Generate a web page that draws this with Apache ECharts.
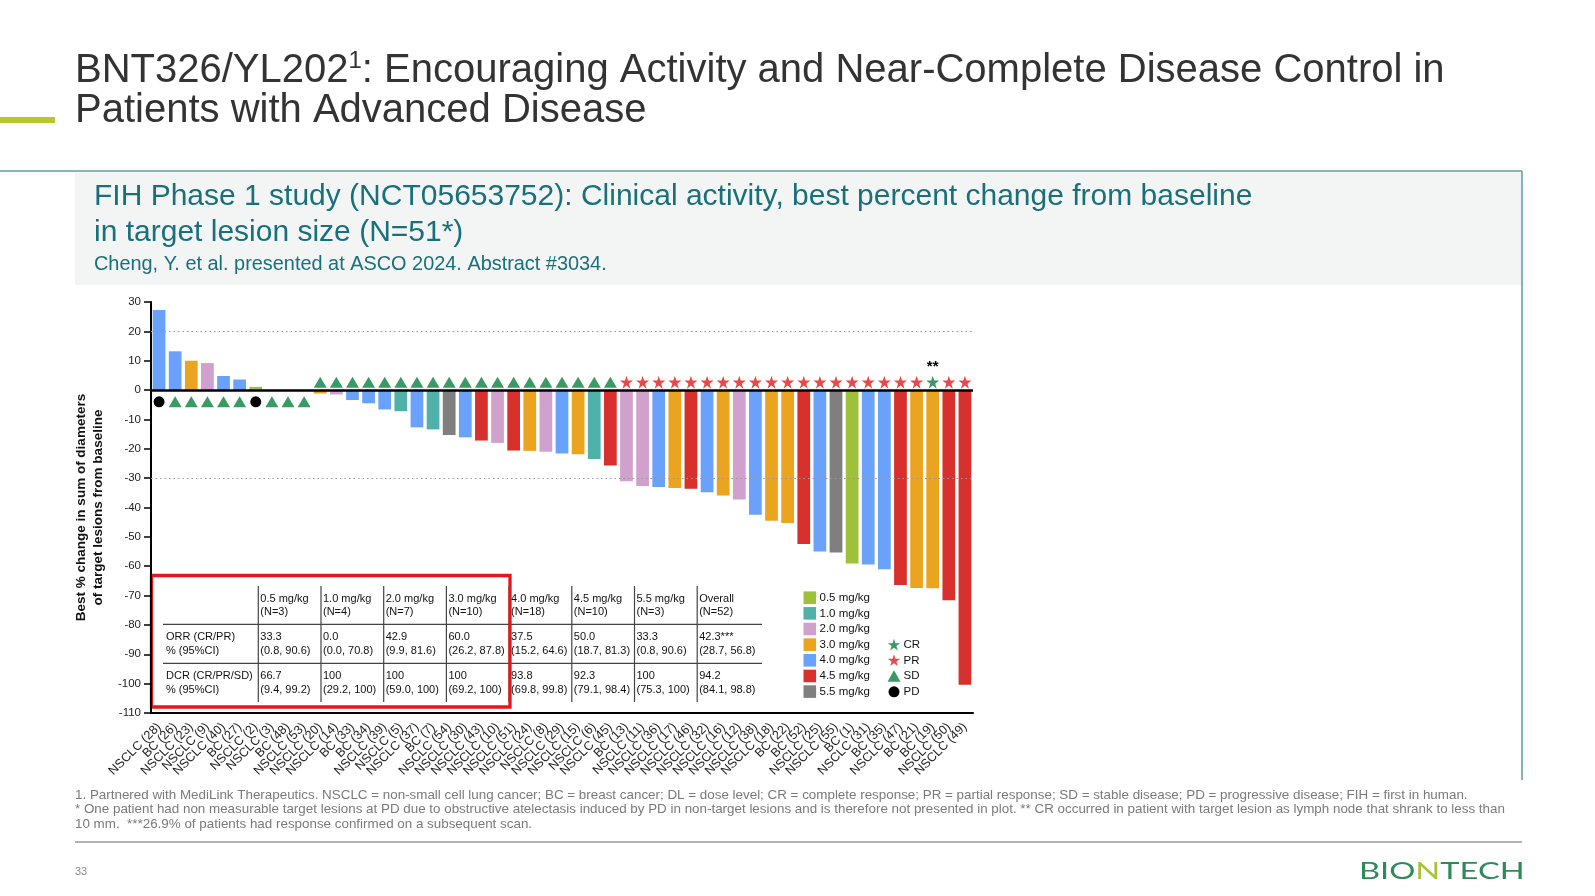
<!DOCTYPE html>
<html><head><meta charset="utf-8">
<script src="https://cdn.jsdelivr.net/npm/echarts@6/dist/echarts.min.js"></script>
<style>html,body{margin:0;padding:0;background:#fff}#c{width:1595px;height:896px}</style>
</head><body><div id="c"></div>
<script>
// ---------- DATA ----------
const categories = ['NSCLC (28)','BC (26)','NSCLC (23)','NSCLC (9)','NSCLC (40)','BC (27)','NSCLC (2)','NSCLC (3)','BC (48)','NSCLC (53)','NSCLC (20)','NSCLC (14)','BC (33)','BC (34)','NSCLC (39)','NSCLC (5)','NSCLC (37)','BC (7)','NSCLC (54)','NSCLC (30)','NSCLC (43)','NSCLC (10)','NSCLC (51)','NSCLC (24)','NSCLC (8)','NSCLC (29)','NSCLC (15)','NSCLC (6)','NSCLC (45)','BC (13)','NSCLC (11)','NSCLC (36)','NSCLC (17)','NSCLC (46)','NSCLC (32)','NSCLC (16)','NSCLC (12)','NSCLC (38)','NSCLC (18)','BC (22)','BC (52)','NSCLC (25)','NSCLC (55)','BC (1)','NSCLC (31)','BC (35)','NSCLC (47)','BC (21)','BC (19)','NSCLC (50)','NSCLC (49)'];
const values = [27.3,13.2,10.0,9.2,4.8,3.6,1.1,0,0,0,-1.2,-1.5,-3.4,-4.5,-6.6,-7.2,-12.7,-13.4,-15.3,-16.1,-17.2,-18.0,-20.6,-20.7,-21.0,-21.6,-21.9,-23.5,-25.7,-31.1,-32.7,-33.0,-33.4,-33.6,-34.8,-35.9,-37.3,-42.5,-44.5,-45.3,-52.4,-55.0,-55.3,-59.1,-59.4,-61.0,-66.4,-67.4,-67.5,-71.6,-100.4];
const doses = ['4.0','4.0','3.0','2.0','4.0','4.0','0.5',null,null,null,'3.0','2.0','4.0','4.0','4.0','1.0','4.0','1.0','5.5','4.0','4.5','2.0','4.5','3.0','2.0','4.0','3.0','1.0','4.5','2.0','2.0','4.0','3.0','4.5','4.0','3.0','2.0','4.0','3.0','3.0','4.5','4.0','5.5','0.5','4.0','4.0','4.5','3.0','3.0','4.5','4.5'];
const responses = ['PD','SD','SD','SD','SD','SD','PD','SD','SD','SD',
  'SD','SD','SD','SD','SD','SD','SD','SD','SD','SD','SD','SD','SD','SD','SD','SD','SD','SD','SD',
  'PR','PR','PR','PR','PR','PR','PR','PR','PR','PR','PR','PR','PR','PR','PR','PR','PR','PR','PR','CR','PR','PR'];
const doseLevels = ['0.5','1.0','2.0','3.0','4.0','4.5','5.5'];
const responseTypes = ['CR','PR','SD','PD'];
const tableHeaders = [['0.5 mg/kg','(N=3)'],['1.0 mg/kg','(N=4)'],['2.0 mg/kg','(N=7)'],['3.0 mg/kg','(N=10)'],['4.0 mg/kg','(N=18)'],['4.5 mg/kg','(N=10)'],['5.5 mg/kg','(N=3)'],['Overall','(N=52)']];
const orrRow = [['33.3','(0.8, 90.6)'],['0.0','(0.0, 70.8)'],['42.9','(9.9, 81.6)'],['60.0','(26.2, 87.8)'],['37.5','(15.2, 64.6)'],['50.0','(18.7, 81.3)'],['33.3','(0.8, 90.6)'],['42.3***','(28.7, 56.8)']];
const dcrRow = [['66.7','(9.4, 99.2)'],['100','(29.2, 100)'],['100','(59.0, 100)'],['100','(69.2, 100)'],['93.8','(69.8, 99.8)'],['92.3','(79.1, 98.4)'],['100','(75.3, 100)'],['94.2','(84.1, 98.8)']];
const rowLabels = [['ORR (CR/PR)','% (95%CI)'],['DCR (CR/PR/SD)','% (95%CI)']];

// ---------- STYLE ----------
const FONT = "'Liberation Sans', Arial, sans-serif";
const doseColors = {'0.5':'#9dc23a','1.0':'#4fb1a9','2.0':'#cfa1cc','3.0':'#eba41f','4.0':'#6aa1fb','4.5':'#d8302c','5.5':'#7f7f7f'};
const STAR = 'path://M50,0 L61.2,34.5 L97.6,34.5 L68.2,55.9 L79.4,90.5 L50,69.1 L20.6,90.5 L31.8,55.9 L2.4,34.5 L38.8,34.5 Z';
const STAR_PTS = [[50,0],[61.2,34.5],[97.6,34.5],[68.2,55.9],[79.4,90.5],[50,69.1],[20.6,90.5],[31.8,55.9],[2.4,34.5],[38.8,34.5]];
const respStyle = {
  CR:{symbol:STAR, color:'#3a9a5f', size:13},
  PR:{symbol:STAR, color:'#ea4848', size:13},
  SD:{symbol:'triangle', color:'#3a9a63', size:[13,11]},
  PD:{symbol:'circle', color:'#000', size:11}
};

const chart = echarts.init(document.getElementById('c'), null, {renderer:'canvas'});

const barData = values.map((v,i)=>({value:v, itemStyle:{color: doses[i] ? doseColors[doses[i]] : 'rgba(0,0,0,0)'}}));

const scatterSeries = responseTypes.map(rt => ({
  type:'scatter', name:rt, z:5,
  symbol: respStyle[rt].symbol, symbolSize: respStyle[rt].size,
  itemStyle:{color:respStyle[rt].color, opacity:1},
  label: rt==='CR' ? {show:true, position:'top', formatter:'**', distance:1, fontSize:15, color:'#000', fontFamily:FONT, fontWeight:'bold'} : {show:false},
  data: responses.map((r,i)=> r===rt ? [i, values[i] >= 0 ? -4 : 2.7] : null).filter(d=>d)
}));

// graphic elements
const g = [];
g.push({type:'rect', shape:{x:0,y:117,width:55,height:6}, style:{fill:'#b6c72b'}});
g.push({type:'text', x:75, y:45, style:{
  text:'{t|BNT326/YL202}{s|1}{t|: Encouraging Activity and Near-Complete Disease Control in}',
  rich:{t:{fontSize:40, fontFamily:FONT, fill:'#333', lineHeight:46, verticalAlign:'bottom'},
        s:{fontSize:24, fontFamily:FONT, fill:'#333', lineHeight:46, verticalAlign:'top', padding:[4,0,0,0]}}}});
g.push({type:'text', x:75, y:91, style:{text:'Patients with Advanced Disease', fontSize:40, fontFamily:FONT, fill:'#333'}});
g.push({type:'rect', shape:{x:75,y:173,width:1447,height:112}, style:{fill:'#f3f4f4'}});
g.push({type:'line', shape:{x1:0,y1:171,x2:1522,y2:171}, style:{stroke:'#5e9c9e', lineWidth:1.5}});
g.push({type:'line', shape:{x1:1522,y1:171,x2:1522,y2:780}, style:{stroke:'#5e9c9e', lineWidth:1.5}});
g.push({type:'text', x:94, y:182, style:{text:'FIH Phase 1 study (NCT05653752): Clinical activity, best percent change from baseline', fontSize:30, fontFamily:FONT, fill:'#19707a'}});
g.push({type:'text', x:94, y:218, style:{text:'in target lesion size (N=51*)', fontSize:30, fontFamily:FONT, fill:'#19707a'}});
g.push({type:'text', x:94, y:255, style:{text:'Cheng, Y. et al. presented at ASCO 2024. Abstract #3034.', fontSize:19.9, fontFamily:FONT, fill:'#19707a'}});

// table
const colX = [258.3,321,383.7,446.4,509.1,571.8,634.5,697.2];
const tStyle = {fontSize:11, fontFamily:FONT, fill:'#111', textVerticalAlign:'middle'};
colX.forEach((x,k)=>{
  g.push({type:'line', shape:{x1:x,y1:586,x2:x,y2:702}, style:{stroke:'#444', lineWidth:1.2}});
  g.push({type:'text', x:x+2, y:599, style:Object.assign({text:tableHeaders[k][0]}, tStyle)});
  g.push({type:'text', x:x+2, y:612, style:Object.assign({text:tableHeaders[k][1]}, tStyle)});
  g.push({type:'text', x:x+2, y:637, style:Object.assign({text:orrRow[k][0]}, tStyle)});
  g.push({type:'text', x:x+2, y:651, style:Object.assign({text:orrRow[k][1]}, tStyle)});
  g.push({type:'text', x:x+2, y:675.5, style:Object.assign({text:dcrRow[k][0]}, tStyle)});
  g.push({type:'text', x:x+2, y:690, style:Object.assign({text:dcrRow[k][1]}, tStyle)});
});
[624.3,663.3].forEach(y=>g.push({type:'line', shape:{x1:163,y1:y,x2:762,y2:y}, style:{stroke:'#444', lineWidth:1.2}}));
g.push({type:'text', x:166, y:637, style:Object.assign({text:rowLabels[0][0]}, tStyle)});
g.push({type:'text', x:166, y:651, style:Object.assign({text:rowLabels[0][1]}, tStyle)});
g.push({type:'text', x:166, y:675.5, style:Object.assign({text:rowLabels[1][0]}, tStyle)});
g.push({type:'text', x:166, y:690, style:Object.assign({text:rowLabels[1][1]}, tStyle)});
g.push({type:'rect', shape:{x:151.5,y:575.5,width:358.5,height:131.5}, style:{fill:'none', stroke:'#e3171c', lineWidth:3.3}});

// legend
doseLevels.forEach((d,k)=>{
  const y = 597.7 + k*15.65;
  g.push({type:'rect', shape:{x:803.5,y:y-6.3,width:12.6,height:12.6}, style:{fill:doseColors[d]}});
  g.push({type:'text', x:819.5, y:y, style:{text:d+' mg/kg', fontSize:11.5, fontFamily:FONT, fill:'#111', textVerticalAlign:'middle'}});
});
responseTypes.forEach((rt,k)=>{
  const y = 645.3 + k*15.5;
  const s = respStyle[rt];
  if (rt==='PD') g.push({type:'circle', shape:{cx:894,cy:y,r:5.5}, style:{fill:s.color}});
  else if (rt==='SD') g.push({type:'polygon', shape:{points:[[894,y-6],[900.5,y+5.5],[887.5,y+5.5]]}, style:{fill:s.color}});
  else g.push({type:'polygon', shape:{points:STAR_PTS.map(p=>[887.5+p[0]*0.13, y-6.5+p[1]*0.13])}, style:{fill:s.color}});
  g.push({type:'text', x:903.5, y:y, style:{text:rt, fontSize:11.5, fontFamily:FONT, fill:'#111', textVerticalAlign:'middle'}});
});

// footnotes
const fn = {fontSize:13.4, fontFamily:FONT, fill:'#7a7a7a', textVerticalAlign:'middle'};
g.push({type:'text', x:75, y:795, style:Object.assign({text:'1. Partnered with MediLink Therapeutics. NSCLC = non-small cell lung cancer; BC = breast cancer; DL = dose level; CR = complete response; PR = partial response; SD = stable disease; PD = progressive disease; FIH = first in human.'}, fn)});
g.push({type:'text', x:75, y:809.5, style:Object.assign({text:'* One patient had non measurable target lesions at PD due to obstructive atelectasis induced by PD in non-target lesions and is therefore not presented in plot. ** CR occurred in patient with target lesion as lymph node that shrank to less than'}, fn)});
g.push({type:'text', x:75, y:824, style:Object.assign({text:'10 mm.  ***26.9% of patients had response confirmed on a subsequent scan.'}, fn)});
g.push({type:'line', shape:{x1:75,y1:842,x2:1522,y2:842}, style:{stroke:'#9a9a9a', lineWidth:1.5}});
g.push({type:'text', x:75, y:872, style:{text:'33', fontSize:11, fontFamily:FONT, fill:'#8a8a8a', textVerticalAlign:'middle'}});
g.push({type:'text', x:1359, y:871.5, scaleX:1.36, originX:0, originY:0, style:{
  text:'{a|BIO}{b|N}{a|TECH}', textVerticalAlign:'middle',
  rich:{a:{fontSize:24, fontFamily:"Lato, 'DejaVu Sans'", fontWeight:400, fill:'#2e8a5a'}, b:{fontSize:24, fontFamily:"Lato, 'DejaVu Sans'", fontWeight:400, fill:'#a9c23a'}}}});

const option = {
  animation:false,
  backgroundColor:'#fff',
  grid:{left:151, right:622, top:302, bottom:183, containLabel:false},
  xAxis:{
    type:'category', data:categories, boundaryGap:true,
    axisLine:{onZero:false, lineStyle:{color:'#000', width:2}},
    axisTick:{alignWithLabel:true, length:7, lineStyle:{color:'#000', width:1.5}},
    axisLabel:{rotate:45, interval:0, fontSize:12.5, color:'#222', fontFamily:FONT, margin:12},
    splitLine:{show:false}
  },
  yAxis:{
    type:'value', min:-110, max:30, interval:10,
    name:'Best % change in sum of diameters\nof target lesions from baseline',
    nameLocation:'middle', nameGap:39, nameRotate:90,
    nameTextStyle:{fontSize:13.5, fontWeight:'bold', color:'#111', fontFamily:FONT, lineHeight:17},
    axisLine:{show:true, lineStyle:{color:'#000', width:2}},
    axisTick:{show:true, length:7, lineStyle:{color:'#000', width:1.5}},
    axisLabel:{fontSize:11.5, color:'#222', fontFamily:FONT, margin:10},
    splitLine:{show:false}
  },
  series:[
    {type:'line', data:[], z:1, silent:true,
     markLine:{silent:true, symbol:'none', label:{show:false},
       lineStyle:{color:'#999', type:[1.5,3], width:1},
       data:[{yAxis:20},{yAxis:-30}]}},
    {type:'bar', data:barData, barWidth:'79%', z:2,
     markLine:{silent:true, symbol:'none', label:{show:false},
       lineStyle:{color:'#000', type:'solid', width:2.5},
       data:[{yAxis:0}]}},
    ...scatterSeries
  ],
  graphic:g
};
chart.setOption(option);
</script></body></html>
